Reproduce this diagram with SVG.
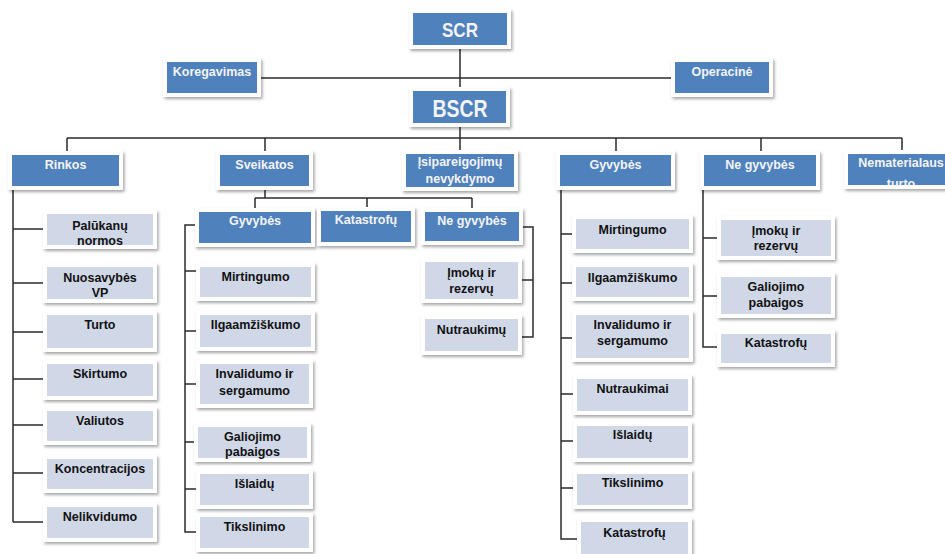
<svg xmlns="http://www.w3.org/2000/svg" width="945" height="554" viewBox="0 0 945 554">
<defs>
<filter id="sh" x="-10%" y="-20%" width="125%" height="150%">
<feDropShadow dx="1.5" dy="2" stdDeviation="1.5" flood-color="#000" flood-opacity="0.35"/>
</filter>
<clipPath id="cNem"><rect x="848" y="154" width="106" height="31"/></clipPath>
</defs>
<style>
.fr{fill:#fff;filter:url(#sh)}
.dk{fill:#4F81BD}
.lt{fill:#D0D8E8}
text{font-family:"Liberation Sans",Arial,sans-serif;font-weight:bold;font-size:12.5px;text-anchor:middle}
.tw{fill:#f4f4f4}
.tb{fill:#111}
.big{font-size:20px}
.con{fill:none;stroke:#2b2b2b;stroke-width:1.5}
</style>
<rect width="945" height="554" fill="#fff"/>
<g id="connectors" class="con">
<path d="M460 49V87M261 78H671M460 127V151M67 138H902M67 138V151M265 138V151M616 138V151M761 138V151M902 138V150"/>
<path d="M13 190V522M13 229H43M13 283H43M13 332H43M13 379H43M13 425H43M13 473H43M13 522H43"/>
<path d="M265 190V198M255 198H472M255 198V208M367 198V207M472 198V208"/>
<path d="M195 225H185V532H196M185 271H196M185 331H196M185 384H196M185 442H194M185 489H196"/>
<path d="M523 227H533V337H522M533 280H522"/>
<path d="M561 190V539H577M561 234H572M561 283H572M561 338H572M561 394H573M561 441H573M561 488H573"/>
<path d="M703 190V347H717M703 238H717M703 296H717"/>
</g>
<g id="scr"><rect class="fr" x="409" y="9" width="102" height="40"/><rect class="dk" x="413" y="13" width="94" height="32"/><text class="tw big" x="460" y="37" textLength="36" lengthAdjust="spacingAndGlyphs">SCR</text></g>
<g id="bscr"><rect class="fr" x="409" y="87" width="101" height="40"/><rect class="dk" x="413" y="91" width="93" height="32"/><text class="tw" style="font-size:24px" x="460" y="117" textLength="55" lengthAdjust="spacingAndGlyphs">BSCR</text></g>
<g id="koregavimas"><rect class="fr" x="163" y="58" width="98" height="39"/><rect class="dk" x="167" y="62" width="90" height="31"/><text class="tw" x="212" y="76">Koregavimas</text></g>
<g id="operacine"><rect class="fr" x="671" y="58" width="102" height="39"/><rect class="dk" x="675" y="62" width="94" height="31"/><text class="tw" x="722" y="76">Operacinė</text></g>
<g id="rinkos"><rect class="fr" x="8" y="151" width="115" height="39"/><rect class="dk" x="12" y="155" width="107" height="31"/><text class="tw" x="65.5" y="169">Rinkos</text></g>
<g id="sveikatos"><rect class="fr" x="216" y="151" width="97" height="39"/><rect class="dk" x="220" y="155" width="89" height="31"/><text class="tw" x="264.5" y="169">Sveikatos</text></g>
<g id="isipareigojimu"><rect class="fr" x="402" y="150" width="116" height="41"/><rect class="dk" x="406" y="154" width="108" height="33"/><text class="tw" x="460" y="166">Įsipareigojimų</text><text class="tw" x="460" y="183">nevykdymo</text></g>
<g id="gyvybes"><rect class="fr" x="556" y="151" width="119" height="39"/><rect class="dk" x="560" y="155" width="111" height="31"/><text class="tw" x="615.5" y="169">Gyvybės</text></g>
<g id="negyvybes"><rect class="fr" x="700" y="151" width="120" height="39"/><rect class="dk" x="704" y="155" width="112" height="31"/><text class="tw" x="760" y="169">Ne gyvybės</text></g>
<g id="nematerialaus"><rect class="fr" x="844" y="150" width="114" height="39"/><rect class="dk" x="848" y="154" width="106" height="31"/><g clip-path="url(#cNem)"><text class="tw" x="901" y="167">Nematerialaus</text><text class="tw" x="901" y="188">turto</text></g></g>
<g id="sv-gyvybes"><rect class="fr" x="195" y="208" width="120" height="39"/><rect class="dk" x="199" y="212" width="112" height="31"/><text class="tw" x="255" y="225">Gyvybės</text></g>
<g id="sv-katastrofu"><rect class="fr" x="317" y="207" width="98" height="39"/><rect class="dk" x="321" y="211" width="90" height="31"/><text class="tw" x="366" y="224">Katastrofų</text></g>
<g id="sv-negyvybes"><rect class="fr" x="421" y="208" width="102" height="37"/><rect class="dk" x="425" y="212" width="94" height="29"/><text class="tw" x="472" y="225">Ne gyvybės</text></g>
<g id="r-palukanu"><rect class="fr" x="43" y="210" width="114" height="39"/><rect class="lt" x="47" y="214" width="106" height="31"/><text class="tb" x="100" y="230">Palūkanų</text><text class="tb" x="100" y="245">normos</text></g>
<g id="r-nuosavybes"><rect class="fr" x="43" y="263" width="114" height="40"/><rect class="lt" x="47" y="267" width="106" height="32"/><text class="tb" x="100" y="282">Nuosavybės</text><text class="tb" x="100" y="297">VP</text></g>
<g id="r-turto"><rect class="fr" x="43" y="311" width="114" height="41"/><rect class="lt" x="47" y="315" width="106" height="33"/><text class="tb" x="100" y="329">Turto</text></g>
<g id="r-skirtumo"><rect class="fr" x="43" y="360" width="114" height="40"/><rect class="lt" x="47" y="364" width="106" height="32"/><text class="tb" x="100" y="378">Skirtumo</text></g>
<g id="r-valiutos"><rect class="fr" x="43" y="407" width="114" height="38"/><rect class="lt" x="47" y="411" width="106" height="30"/><text class="tb" x="100" y="425">Valiutos</text></g>
<g id="r-koncentracijos"><rect class="fr" x="43" y="455" width="114" height="38"/><rect class="lt" x="47" y="459" width="106" height="30"/><text class="tb" x="100" y="473">Koncentracijos</text></g>
<g id="r-nelikvidumo"><rect class="fr" x="43" y="503" width="114" height="39"/><rect class="lt" x="47" y="507" width="106" height="31"/><text class="tb" x="100" y="521">Nelikvidumo</text></g>
<g id="s-mirtingumo"><rect class="fr" x="196" y="263" width="119" height="38"/><rect class="lt" x="200" y="267" width="111" height="30"/><text class="tb" x="255.5" y="281">Mirtingumo</text></g>
<g id="s-ilgaamziskumo"><rect class="fr" x="196" y="311" width="119" height="40"/><rect class="lt" x="200" y="315" width="111" height="32"/><text class="tb" x="255.5" y="329">Ilgaamžiškumo</text></g>
<g id="s-invalidumo"><rect class="fr" x="196" y="360" width="117" height="48"/><rect class="lt" x="200" y="364" width="109" height="40"/><text class="tb" x="254.5" y="378">Invalidumo ir</text><text class="tb" x="254.5" y="395">sergamumo</text></g>
<g id="s-galiojimo"><rect class="fr" x="194" y="423" width="117" height="39"/><rect class="lt" x="198" y="427" width="109" height="31"/><text class="tb" x="252.5" y="441">Galiojimo</text><text class="tb" x="252.5" y="456">pabaigos</text></g>
<g id="s-islaidu"><rect class="fr" x="196" y="470" width="117" height="39"/><rect class="lt" x="200" y="474" width="109" height="31"/><text class="tb" x="254.5" y="488">Išlaidų</text></g>
<g id="s-tikslinimo"><rect class="fr" x="196" y="513" width="117" height="39"/><rect class="lt" x="200" y="517" width="109" height="31"/><text class="tb" x="254.5" y="531">Tikslinimo</text></g>
<g id="i-imoku"><rect class="fr" x="421" y="258" width="101" height="45"/><rect class="lt" x="425" y="262" width="93" height="37"/><text class="tb" x="471.5" y="277">Įmokų ir</text><text class="tb" x="471.5" y="293">rezervų</text></g>
<g id="i-nutraukimu"><rect class="fr" x="421" y="315" width="101" height="40"/><rect class="lt" x="425" y="319" width="93" height="32"/><text class="tb" x="471.5" y="334">Nutraukimų</text></g>
<g id="g-mirtingumo"><rect class="fr" x="572" y="215" width="121" height="38"/><rect class="lt" x="576" y="219" width="113" height="30"/><text class="tb" x="632.5" y="234">Mirtingumo</text></g>
<g id="g-ilgaamziskumo"><rect class="fr" x="572" y="263" width="121" height="38"/><rect class="lt" x="576" y="267" width="113" height="30"/><text class="tb" x="632.5" y="282">Ilgaamžiškumo</text></g>
<g id="g-invalidumo"><rect class="fr" x="572" y="311" width="121" height="51"/><rect class="lt" x="576" y="315" width="113" height="43"/><text class="tb" x="632.5" y="329">Invalidumo ir</text><text class="tb" x="632.5" y="345">sergamumo</text></g>
<g id="g-nutraukimai"><rect class="fr" x="573" y="375" width="119" height="40"/><rect class="lt" x="577" y="379" width="111" height="32"/><text class="tb" x="632.5" y="393">Nutraukimai</text></g>
<g id="g-islaidu"><rect class="fr" x="573" y="422" width="119" height="40"/><rect class="lt" x="577" y="426" width="111" height="32"/><text class="tb" x="632.5" y="439">Išlaidų</text></g>
<g id="g-tikslinimo"><rect class="fr" x="573" y="470" width="119" height="39"/><rect class="lt" x="577" y="474" width="111" height="31"/><text class="tb" x="632.5" y="487">Tikslinimo</text></g>
<g id="g-katastrofu"><rect class="fr" x="577" y="518" width="115" height="40"/><rect class="lt" x="581" y="522" width="107" height="32"/><text class="tb" x="634.5" y="537">Katastrofų</text></g>
<g id="n-imoku"><rect class="fr" x="717" y="216" width="118" height="44"/><rect class="lt" x="721" y="220" width="110" height="36"/><text class="tb" x="776" y="235">Įmokų ir</text><text class="tb" x="776" y="250">rezervų</text></g>
<g id="n-galiojimo"><rect class="fr" x="717" y="273" width="118" height="45"/><rect class="lt" x="721" y="277" width="110" height="37"/><text class="tb" x="776" y="291">Galiojimo</text><text class="tb" x="776" y="307">pabaigos</text></g>
<g id="n-katastrofu"><rect class="fr" x="717" y="330" width="118" height="37"/><rect class="lt" x="721" y="334" width="110" height="29"/><text class="tb" x="776" y="347">Katastrofų</text></g>
</svg>
